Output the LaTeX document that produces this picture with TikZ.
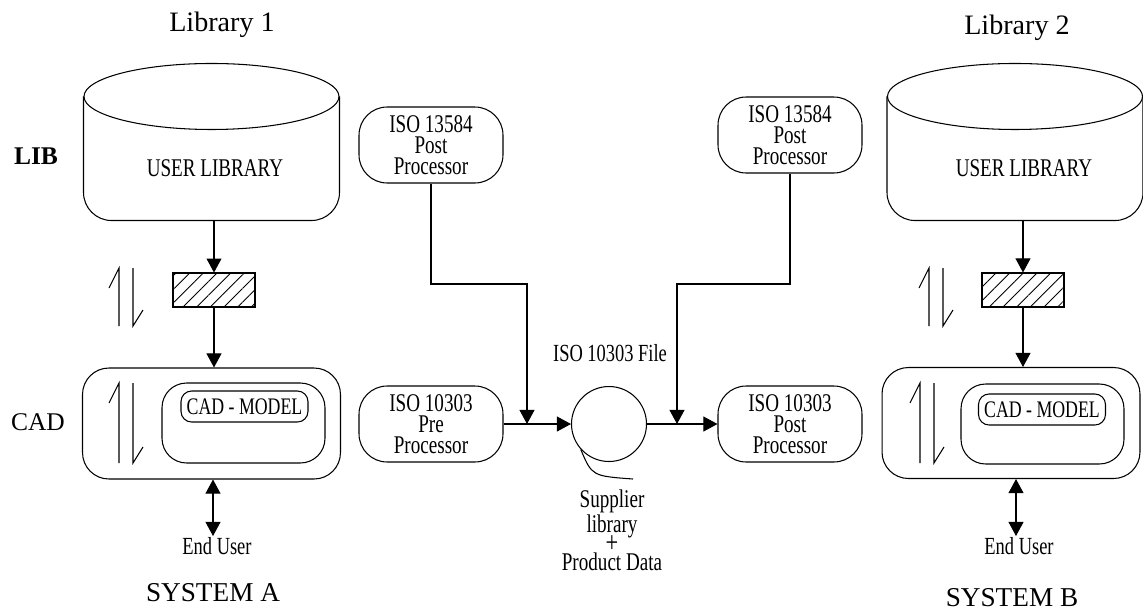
\documentclass[tikz,border=0pt]{standalone}
\usepackage{fontspec}
\setmainfont{Liberation Serif}
\newfontfamily\narrowfont[FakeStretch=0.75]{Liberation Serif}
\usepackage{tikz}
\usetikzlibrary{arrows.meta,patterns.meta,calc}

\begin{document}
\begin{tikzpicture}[x=0.02cm, y=-0.02cm, line width=0.6pt,
  proc/.style={draw, rounded corners=16pt, minimum width=2.88cm, minimum height=1.52cm, inner sep=0pt, align=center, font=\narrowfont\fontsize{14.5}{12}\selectfont},
  cadbox/.style={draw, rounded corners=15pt, minimum width=5.16cm, minimum height=2.22cm},
  inbox/.style={draw, rounded corners=14pt, minimum width=3.26cm, minimum height=1.6cm},
  model/.style={draw, rounded corners=6pt, minimum width=2.54cm, minimum height=0.62cm, inner sep=0pt, font=\narrowfont\fontsize{13.5}{13.5}\selectfont},
  conv/.style={draw, pattern={Lines[angle=45,distance=5.5pt,line width=0.5pt]}, minimum width=1.64cm, minimum height=0.68cm, inner sep=0pt},
  body/.style={minimum width=5.1cm, minimum height=2.46cm, inner sep=0pt},
  head/.style={font=\fontsize{16}{16}\selectfont},
  note/.style={inner sep=0pt, align=center, font=\narrowfont\fontsize{14}{11}\selectfont},
  >={Triangle[width=8.5pt,length=8pt]}
]
\useasboundingbox (0,0) rectangle (1143,613);

% libraries
\node [head] (t1) at (222,25) {Library 1};
\node [head] (t2) at (1017,28) {Library 2};
\node [body] (lib1) at (211.5,158.5) {};
\node [body] (lib2) at (1015,158.5) {};
\foreach \l in {lib1,lib2} {
  \draw [rounded corners=16pt] (\l.north west) -- (\l.south west) -- (\l.south east) -- (\l.north east);
  \draw (\l.north) ellipse [x radius=127.5, y radius=33];
}
\node [note, font=\narrowfont\fontsize{14.5}{14.5}\selectfont] (ul1) at (215,168) {USER LIBRARY};
\node [note, font=\narrowfont\fontsize{14.5}{14.5}\selectfont] (ul2) at (1024,168) {USER LIBRARY};
\node [font=\bfseries\fontsize{14.5}{14.5}\selectfont] (lib) at (36,156) {LIB};
\node [font=\fontsize{14.5}{14.5}\selectfont] (cad) at (38,422) {CAD};

\node [conv] (conv1) at (214,290) {};
\node [conv] (conv2) at (1023,290) {};

\node [cadbox] (cad1) at (211.5,423.5) {};
\node [cadbox] (cad2) at (1011,423) {};
\node [inbox] (cin1) at (243.5,423) {};
\node [inbox] (cin2) at (1042.5,424) {};
\node [model] (model1) at (244.5,406.5) {CAD - MODEL};
\node [model] (model2) at (1042,409.5) {CAD - MODEL};

% up/down harpoons
\foreach \x/\y/\h in {119/268/58, 119/383/80, 929/268/58, 920/383/80} {
  \draw (\x-10,\y+20) -- (\x,\y) -- (\x,\y+\h);
  \draw (\x+14,\y) -- (\x+14,\y+\h) -- (\x+24,\y+\h-16);
}

\draw [->] (conv1 |- lib1.south) -- (conv1.north);
\draw [->] (conv1.south) -- (conv1.south |- cad1.north);
\draw [->] (conv2 |- lib2.south) -- (conv2.north);
\draw [->] (conv2.south) -- (conv2.south |- cad2.north);

\node [note] (user1) at (217,546) {End User};
\node [note] (user2) at (1019,546) {End User};
\coordinate (eu1) at (213,536);
\coordinate (eu2) at (1016,536);
\draw [<->] (eu1 |- cad1.south) -- (eu1);
\draw [<->] (eu2 |- cad2.south) -- (eu2);

\node [head, font=\fontsize{15.5}{15.5}\selectfont] (sysa) at (213,593) {SYSTEM A};
\node [head, font=\fontsize{15.5}{15.5}\selectfont] (sysb) at (1012,598) {SYSTEM B};

% exchange
\node [proc] (post1) at (431,145) {ISO 13584\\Post\\Processor};
\node [proc] (post2) at (790,135) {ISO 13584\\Post\\Processor};
\node [proc] (pre) at (431,424) {ISO 10303\\Pre\\Processor};
\node [proc] (post3) at (790,424) {ISO 10303\\Post\\Processor};
\node [draw, circle, minimum size=1.5cm, inner sep=0pt] (file) at (609,424) {};
\node [note] (ftxt) at (610,353) {ISO 10303 File};
\node [note, font=\narrowfont\fontsize{14.5}{11}\selectfont] (supp) at (612,530) {Supplier\\library\\[-2pt]{\fontsize{17}{11}\selectfont+}\\[-1pt]Product Data};

\coordinate (j1) at (527,424);
\coordinate (j2) at (677,424);
\draw [->] (pre) -- (file);
\draw [->] (file) -- (post3);
\draw [->] (post1.south) -- (post1.south |- 0,284) -| (j1);
\draw [->] (post2.south) -- (post2.south |- 0,284) -| (j2);
\draw (file.222) .. controls (592,476) .. (633,479);
\end{tikzpicture}
\end{document}
